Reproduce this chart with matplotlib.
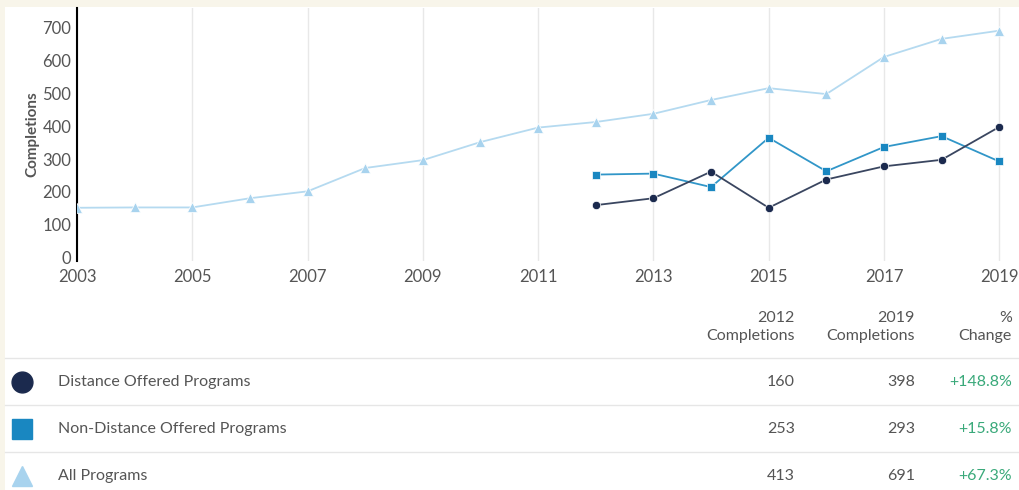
import matplotlib.pyplot as plt
from matplotlib.patches import Rectangle
from matplotlib.lines import Line2D

plt.rcParams['font.family'] = ['Lato', 'DejaVu Sans']

# --- data ---
years_all = list(range(2003, 2020))
all_programs = [152, 153, 153, 181, 202, 273, 297, 352, 396, 413, 438,
                480, 516, 498, 611, 666, 691]

years_split = list(range(2012, 2020))
distance = [160, 181, 262, 152, 238, 278, 298, 398]
non_distance = [253, 256, 215, 365, 263, 337, 370, 293]

series_names = ['Distance Offered Programs', 'Non-Distance Offered Programs', 'All Programs']
x_ticks = list(range(2003, 2020, 2))
y_ticks = list(range(0, 800, 100))

c_dist = '#1b2a4e'
c_nond = '#1987c1'
c_all = '#a8d3ee'
c_text = '#555555'
c_green = '#3aa97a'

fig = plt.figure(figsize=(10.2, 4.9), dpi=100)
fig.patch.set_facecolor('#f8f5ea')
W, H = 1020, 490

def fx(px):
    return px / W

def fy(py):
    return 1 - py / H

# white panel
fig.patches.append(Rectangle((fx(5), 0), 1 - fx(5), fy(7), transform=fig.transFigure,
                             facecolor='white', edgecolor='none', zorder=-5))

# --- chart ---
ax = fig.add_axes([fx(77), fy(261), fx(1005) - fx(77), fy(8) - fy(261)])
ax.set_zorder(2)
ax.set_facecolor('none')
ax.plot(years_all, all_programs, color='#b5daf0', lw=1.3, marker='^', ms=6.5,
        markerfacecolor=c_all, markeredgecolor='white', markeredgewidth=0.5, zorder=3)
ax.plot(years_split, non_distance, color='#3196c8', lw=1.3, marker='s', ms=6,
        markerfacecolor=c_nond, markeredgecolor='white', markeredgewidth=0.5, zorder=4)
ax.plot(years_split, distance, color='#3a4660', lw=1.3, marker='o', ms=6,
        markerfacecolor=c_dist, markeredgecolor='white', markeredgewidth=0.5, zorder=5)

ax.set_xlim(2003, 2019.1)
ax.set_ylim(-10, 760)
ax.set_xticks(x_ticks)
ax.set_yticks(y_ticks)
ax.grid(axis='x', color='#e8e8e8', lw=1)
ax.grid(axis='y', visible=False)
for s in ['top', 'right', 'bottom']:
    ax.spines[s].set_visible(False)
ax.spines['left'].set_color('black')
ax.spines['left'].set_linewidth(1.5)
ax.tick_params(length=0, labelsize=12, colors=c_text, pad=4)
ax.tick_params(axis='x', pad=6)
ax.set_ylabel('Completions', fontsize=11, fontweight='bold', color=c_text, labelpad=2)

# --- table ---
cols_x = [795, 915, 1012]
headers = ['2012\nCompletions', '2019\nCompletions', '%\nChange']
for x, h in zip(cols_x, headers):
    fig.text(fx(x), fy(327), h, ha='right', va='center', fontsize=11.5,
             color=c_text, linespacing=1.35)

row_y = [382, 429, 476]
sep_y = [358, 405, 452]
for y in sep_y:
    fig.add_artist(Line2D([fx(5), 1], [fy(y), fy(y)], color='#e6e6e6', lw=1))

start_vals = [distance[0], non_distance[0], all_programs[years_all.index(2012)]]
end_vals = [distance[-1], non_distance[-1], all_programs[-1]]
markers = ['o', 's', '^']
colors = [c_dist, c_nond, c_all]
for i, name in enumerate(series_names):
    y = fy(row_y[i])
    fig.add_artist(Line2D([fx(22)], [y], marker=markers[i], color=colors[i],
                          ms=15 if markers[i] != 's' else 14, lw=0))
    fig.text(fx(58), y, name, ha='left', va='center', fontsize=11.5, color=c_text)
    fig.text(fx(cols_x[0]), y, str(start_vals[i]), ha='right', va='center',
             fontsize=11.5, color=c_text)
    fig.text(fx(cols_x[1]), y, str(end_vals[i]), ha='right', va='center',
             fontsize=11.5, color=c_text)
    pct = (end_vals[i] - start_vals[i]) / start_vals[i] * 100
    fig.text(fx(cols_x[2]), y, f'+{pct:.1f}%', ha='right', va='center',
             fontsize=11.5, color=c_green)

fig.savefig('out.png', dpi=100, facecolor=fig.get_facecolor())
